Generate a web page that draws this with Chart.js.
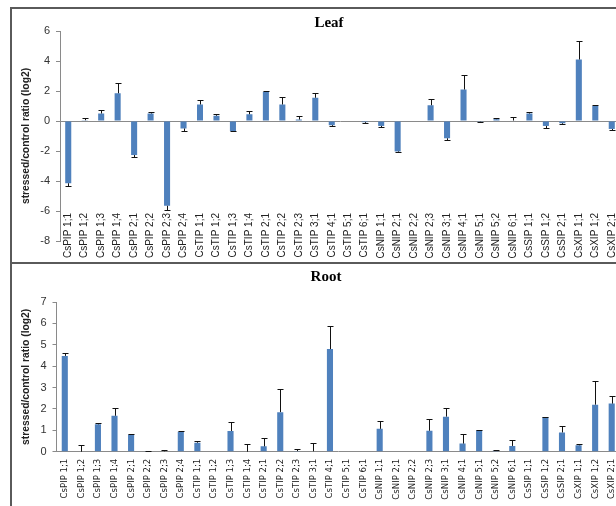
<!DOCTYPE html>
<html>
<head>
<meta charset="utf-8">
<script src="https://cdn.jsdelivr.net/npm/chart.js@4.4.1/dist/chart.umd.min.js"></script>
<style>
  html, body { margin: 0; padding: 0; background: #fff; }
  #wrap { position: relative; width: 616px; height: 506px; overflow: hidden; background: #fff; }
  .frame { position: absolute; background: #5a5a5a; }
  canvas { position: absolute; left: 0; }
</style>
</head>
<body>
<div id="wrap">
  <div class="frame" style="left:10px; top:7px; width:620px; height:2px;"></div>
  <div class="frame" style="left:10px; top:7px; width:2px; height:510px;"></div>
  <div class="frame" style="left:10px; top:262px; width:620px; height:2px;"></div>
  <canvas id="leafChart" width="640" height="251" style="top:10px; width:640px; height:251px;"></canvas>
  <canvas id="rootChart" width="640" height="241" style="top:265px; width:640px; height:241px;"></canvas>
</div>
<script>
// aquaporin genes (same order in both panels)
const genes = [
  "CsPIP 1;1", "CsPIP 1;2", "CsPIP 1;3", "CsPIP 1;4", "CsPIP 2;1", "CsPIP 2;2", "CsPIP 2;3", "CsPIP 2;4",
  "CsTIP 1;1", "CsTIP 1;2", "CsTIP 1;3", "CsTIP 1;4", "CsTIP 2;1", "CsTIP 2;2", "CsTIP 2;3", "CsTIP 3;1",
  "CsTIP 4;1", "CsTIP 5;1", "CsTIP 6;1",
  "CsNIP 1;1", "CsNIP 2;1", "CsNIP 2;2", "CsNIP 2;3", "CsNIP 3;1", "CsNIP 4;1", "CsNIP 5;1", "CsNIP 5;2", "CsNIP 6;1",
  "CsSIP 1;1", "CsSIP 1;2", "CsSIP 2;1",
  "CsXIP 1;1", "CsXIP 1;2", "CsXIP 2;1"
];

// Leaf: stressed/control ratio (log2) and error
const leafValues = [
  -4.15, 0.05, 0.5, 1.85, -2.27, 0.5, -5.65, -0.5,
  1.1, 0.35, -0.67, 0.45, 1.95, 1.1, 0.1, 1.55,
  -0.28, 0, -0.08,
  -0.33, -2.03, 0, 1.05, -1.15, 2.1, -0.05, 0.12, 0.03,
  0.5, -0.33, -0.15,
  4.1, 1.0, -0.53
];
const leafErrors = [
  0.15, 0.15, 0.23, 0.68, 0.15, 0.12, 0.28, 0.17,
  0.3, 0.1, 0.03, 0.22, 0.03, 0.5, 0.25, 0.35,
  0.05, 0, 0.05,
  0.05, 0.03, 0, 0.42, 0.13, 0.98, 0.03, 0.1, 0.25,
  0.12, 0.15, 0.05,
  1.2, 0.1, 0.07
];

// Root: stressed/control ratio (log2) and error
const rootValues = [
  4.48, 0, 1.28, 1.68, 0.8, 0.03, 0.02, 0.93,
  0.42, 0, 0.97, 0, 0.25, 1.85, 0.03, 0.02,
  4.8, 0, 0,
  1.07, 0, 0, 0.98, 1.64, 0.38, 1.0, 0.05, 0.27,
  0, 1.62, 0.9,
  0.3, 2.2, 2.25
];
const rootErrors = [
  0.13, 0.32, 0.07, 0.38, 0.02, 0.01, 0.06, 0.02,
  0.1, 0, 0.4, 0.36, 0.38, 1.1, 0.08, 0.38,
  1.08, 0, 0,
  0.35, 0, 0, 0.56, 0.42, 0.43, 0.02, 0.02, 0.27,
  0, 0.02, 0.3,
  0.07, 1.1, 0.35
];

const leafTicks = { min: -8, max: 6, step: 2 };
const rootTicks = { min: 0, max: 7, step: 1 };

const BAR_BLUE = "#4f81bd";
const AXIS_GREY = "#8a8a8a";
const yTitle = "stressed/control ratio (log2)";

// one-sided error bars, drawn away from zero
const errorBars = {
  id: "errorBars",
  afterDatasetsDraw(chart) {
    const ctx = chart.ctx;
    const yScale = chart.scales.y;
    chart.data.datasets.forEach((ds, i) => {
      const meta = chart.getDatasetMeta(i);
      meta.data.forEach((bar, j) => {
        const v = ds.data[j];
        const e = ds.errors[j];
        if (!e) return;
        const end = v < 0 ? v - e : v + e;
        const x = Math.round(bar.x) + 0.5;
        const y0 = yScale.getPixelForValue(v);
        const y1 = Math.round(yScale.getPixelForValue(end)) + 0.5;
        ctx.save();
        ctx.strokeStyle = "#111";
        ctx.lineWidth = 1;
        ctx.beginPath();
        ctx.moveTo(x, y0);
        ctx.lineTo(x, y1);
        ctx.moveTo(x - 3, y1);
        ctx.lineTo(x + 3, y1);
        ctx.stroke();
        ctx.restore();
      });
    });
  }
};

function chartTitle(text, padTop, padBottom) {
  return {
    display: true,
    text,
    color: "#000",
    font: { family: "'Liberation Serif', 'Times New Roman', serif", weight: "bold", size: 15, lineHeight: "16px" },
    padding: { top: padTop, bottom: padBottom }
  };
}

// Leaf panel
new Chart(document.getElementById("leafChart"), {
  type: "bar",
  data: {
    labels: genes,
    datasets: [{
      data: leafValues,
      errors: leafErrors,
      backgroundColor: BAR_BLUE,
      borderWidth: 0,
      categoryPercentage: 0.8,
      barPercentage: 0.46
    }]
  },
  plugins: [errorBars],
  options: {
    responsive: false,
    animation: false,
    devicePixelRatio: 1,
    layout: { padding: { left: 38, right: 20, top: 0, bottom: 20 } },
    plugins: {
      legend: { display: false },
      tooltip: { enabled: false },
      title: chartTitle("Leaf", 5, 0)
    },
    scales: {
      x: {
        position: { y: -6 },
        grid: { display: false, drawTicks: false },
        border: { display: false },
        ticks: {
          autoSkip: false,
          minRotation: 90,
          maxRotation: 90,
          padding: 2,
          color: "#222",
          font: { family: "'Liberation Sans', Arial, sans-serif", size: 10 }
        }
      },
      y: {
        min: leafTicks.min,
        max: leafTicks.max,
        afterFit: (scale) => { scale.width = 22; },
        ticks: {
          stepSize: leafTicks.step,
          padding: 6,
          color: "#333",
          font: { family: "'Liberation Sans', Arial, sans-serif", size: 11 }
        },
        grid: {
          color: (c) => (c.tick && c.tick.value === 0 ? AXIS_GREY : "rgba(0,0,0,0)"),
          tickColor: AXIS_GREY,
          tickLength: 4
        },
        border: { color: AXIS_GREY },
        title: {
          display: true,
          text: yTitle,
          color: "#222",
          font: { family: "'Liberation Sans', Arial, sans-serif", weight: "bold", size: 10.3 },
          padding: { top: -18.2, bottom: 0 }
        }
      }
    }
  }
});

// Root panel
new Chart(document.getElementById("rootChart"), {
  type: "bar",
  data: {
    labels: genes,
    datasets: [{
      data: rootValues,
      errors: rootErrors,
      backgroundColor: BAR_BLUE,
      borderWidth: 0,
      categoryPercentage: 0.8,
      barPercentage: 0.46
    }]
  },
  plugins: [errorBars],
  options: {
    responsive: false,
    animation: false,
    devicePixelRatio: 1,
    layout: { padding: { left: 32, right: 20, top: 0, bottom: 0 } },
    plugins: {
      legend: { display: false },
      tooltip: { enabled: false },
      title: chartTitle("Root", 4, 17)
    },
    scales: {
      x: {
        afterFit: (scale) => { scale.height = 54.3; },
        grid: { display: false, drawTicks: false },
        border: { display: true, color: AXIS_GREY },
        ticks: {
          autoSkip: false,
          minRotation: 90,
          maxRotation: 90,
          padding: 7,
          color: "#222",
          font: { family: "'Liberation Sans Narrow', 'DejaVu Sans Condensed', sans-serif", size: 9.5 }
        }
      },
      y: {
        min: rootTicks.min,
        max: rootTicks.max,
        afterFit: (scale) => { scale.width = 24.5; },
        ticks: {
          stepSize: rootTicks.step,
          padding: 6,
          color: "#333",
          font: { family: "'Liberation Sans', Arial, sans-serif", size: 11 }
        },
        grid: {
          drawOnChartArea: false,
          tickColor: AXIS_GREY,
          tickLength: 4
        },
        border: { color: AXIS_GREY },
        title: {
          display: true,
          text: yTitle,
          color: "#222",
          font: { family: "'Liberation Sans', Arial, sans-serif", weight: "bold", size: 10.3 },
          padding: { top: -11.7, bottom: 0 }
        }
      }
    }
  }
});
</script>
</body>
</html>
